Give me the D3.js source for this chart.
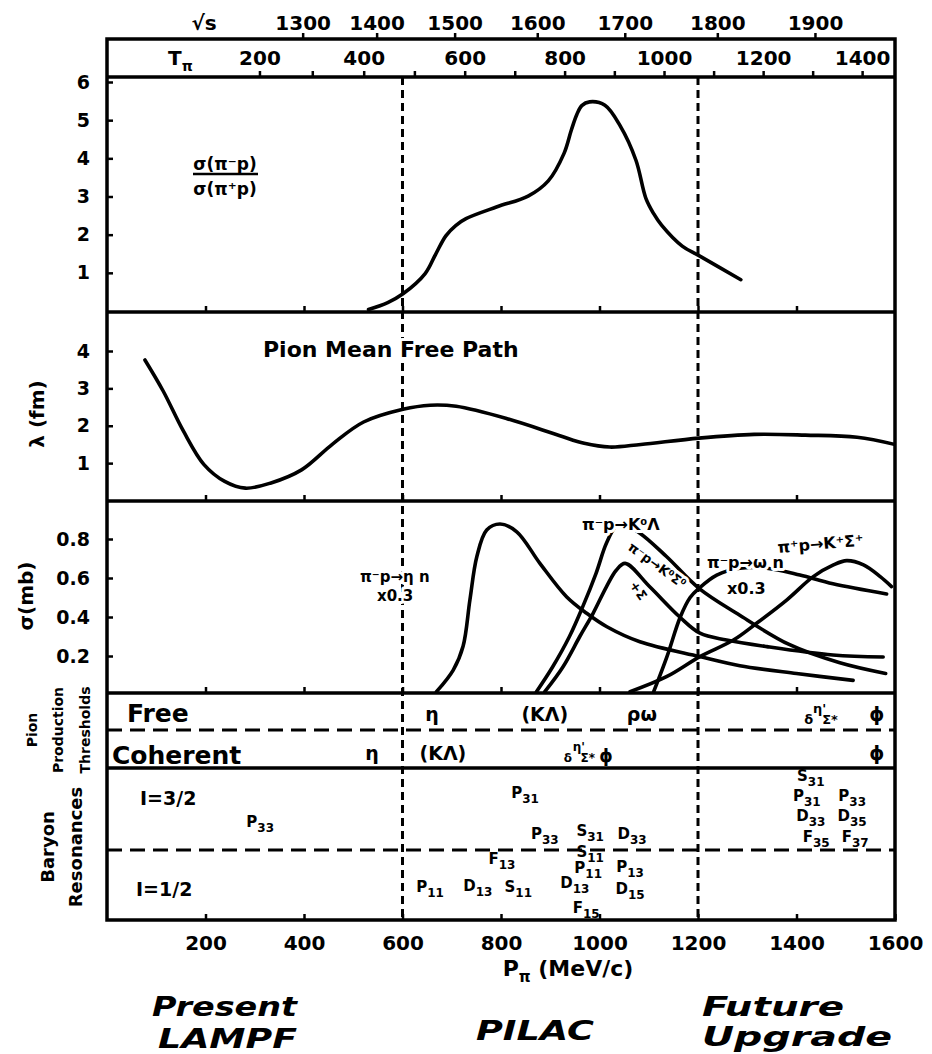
<!DOCTYPE html>
<html><head><meta charset="utf-8">
<script src="https://cdn.jsdelivr.net/npm/d3@7/dist/d3.min.js"></script>
<style>
html,body{margin:0;padding:0;background:#fff;}
text{font-family:"DejaVu Sans","Liberation Sans",sans-serif;font-weight:bold;fill:#000;}
</style></head><body>
<svg id="c" width="932" height="1054"></svg>
<script>
// ---------------- data ----------------
const pMomentumTicks = [200, 400, 600, 800, 1000, 1200, 1400, 1600];
const tPionTicks = [200, 300, 400, 500, 600, 700, 800, 900, 1000, 1100, 1200, 1300, 1400];
const sqrtSTicks = [1300, 1400, 1500, 1600, 1700, 1800, 1900];
const ratioTicks = [1, 2, 3, 4, 5, 6];
const lambdaTicks = [1, 2, 3, 4];
const sigmaTicks = [0.2, 0.4, 0.6, 0.8];
const regionEdges = [600, 1200];

// sigma(pi- p)/sigma(pi+ p)
const ratioP = [531, 570, 601, 646, 667, 688, 708, 729, 792, 855, 896, 928, 943, 954, 964, 980, 1011, 1042, 1074, 1094, 1110, 1126, 1168, 1202, 1287];
const ratioV = [0.04, 0.22, 0.45, 0.98, 1.48, 1.97, 2.24, 2.42, 2.73, 3.01, 3.41, 4.13, 4.75, 5.15, 5.38, 5.48, 5.39, 4.85, 3.95, 2.96, 2.55, 2.25, 1.70, 1.45, 0.82];

// pion mean free path (fm)
const lambdaP = [77, 114, 155, 197, 239, 281, 333, 395, 458, 521, 601, 656, 709, 812, 918, 969, 1021, 1084, 1202, 1314, 1418, 1523, 1606];
const lambdaV = [3.76, 2.93, 1.86, 0.96, 0.51, 0.33, 0.47, 0.82, 1.51, 2.10, 2.44, 2.55, 2.52, 2.19, 1.74, 1.53, 1.43, 1.50, 1.67, 1.77, 1.75, 1.69, 1.48];

// cross sections (mb)
const etaP = [669, 703, 723, 737, 751, 771, 798, 832, 879, 933, 974, 1015, 1082, 1203, 1285, 1400, 1515];
const etaV = [0.017, 0.128, 0.25, 0.49, 0.71, 0.846, 0.877, 0.837, 0.675, 0.504, 0.419, 0.35, 0.273, 0.197, 0.15, 0.11, 0.075];
const k0LambdaP = [872, 905, 939, 966, 993, 1014, 1034, 1050, 1082, 1136, 1202, 1281, 1385, 1488, 1581];
const k0LambdaV = [0.017, 0.145, 0.30, 0.453, 0.624, 0.778, 0.865, 0.87, 0.83, 0.71, 0.547, 0.415, 0.259, 0.165, 0.11];
const k0SigmaP = [889, 926, 960, 987, 1014, 1034, 1052, 1102, 1163, 1204, 1258, 1340, 1474, 1576];
const k0SigmaV = [0.017, 0.145, 0.30, 0.419, 0.555, 0.64, 0.675, 0.555, 0.40, 0.317, 0.282, 0.248, 0.205, 0.195];
const omegaP = [1110, 1137, 1164, 1184, 1202, 1238, 1285, 1340, 1407, 1474, 1583];
const omegaV = [0.017, 0.197, 0.40, 0.50, 0.547, 0.615, 0.65, 0.65, 0.615, 0.57, 0.518];
const kpSigmaP = [1062, 1136, 1204, 1272, 1319, 1380, 1434, 1475, 1502, 1536, 1570, 1593];
const kpSigmaV = [0.017, 0.094, 0.197, 0.282, 0.368, 0.487, 0.607, 0.667, 0.689, 0.667, 0.607, 0.556];

// pion production thresholds (momentum, MeV/c)
const freeNames = ["η", "(KΛ)", "ρω", "ϕ"];
const freeP = [660, 889, 1086, 1563];
const coherentNames = ["η", "(KΛ)", "ϕ"];
const coherentP = [538, 682, 1563];
const freeSmallNames = ["δ", "η'", "Σ*"];
const freeSmallP = [1425, 1447, 1468];
const coherentSmallNames = ["δ", "η'", "Σ*", "ϕ"];
const coherentSmallP = [936, 958, 976, 1013];

// baryon resonances: name, subscript, momentum, level (0 bottom .. 100 top of band)
const resName = ["P", "P", "P", "S", "D", "S", "F", "P", "P", "P", "D", "S", "D", "D", "F", "S", "P", "P", "D", "D", "F", "F"];
const resSub  = ["33", "31", "33", "31", "33", "11", "13", "11", "13", "11", "13", "11", "13", "15", "15", "31", "31", "33", "33", "35", "35", "37"];
const resP    = [311, 849, 889, 981, 1066, 981, 802, 977, 1062, 656, 753, 835, 950, 1062, 973, 1429, 1421, 1513, 1429, 1513, 1440, 1519];
const resLevel= [62, 82, 54, 56, 54, 42, 37, 31, 32, 18, 19, 18, 21, 17, 4, 93, 80, 80, 66, 66, 52, 52];

// ---------------- layout ----------------
const mPi = 139.57, mP = 938.27;
const pFromT = T => { const E = T + mPi; return Math.sqrt(E * E - mPi * mPi); };
const pFromSqrtS = w => { const E = (w * w - mP * mP - mPi * mPi) / (2 * mP); return Math.sqrt(E * E - mPi * mPi); };

const L = 107, R = 895;
const Y = {boxTop: 39, p1: 77, p2: 312, p3: 501, th: 693, br: 768, bottom: 920, thMid: 730, brMid: 850};

const svg = d3.select("#c");
const x = d3.scaleLinear().domain([0, 1600]).range([L, R]);
const y1 = d3.scaleLinear().domain([0, 6]).range([311, 82]);
const y2 = d3.scaleLinear().domain([0, 4]).range([500.5, 351]);
const y3 = d3.scaleLinear().domain([0, 0.8]).range([695, 539]);
const yB = d3.scaleLinear().domain([0, 100]).range([Y.bottom - 2, Y.br + 2]);

const defs = svg.append("defs");
function clip(id, y0, y1_) {
  defs.append("clipPath").attr("id", id).append("rect")
    .attr("x", L).attr("y", y0).attr("width", R - L).attr("height", y1_ - y0);
  return "url(#" + id + ")";
}

const halo = sel => sel.attr("stroke", "#fff").attr("stroke-width", 6).attr("paint-order", "stroke").attr("stroke-linejoin", "round");

// vertical region dashed lines
svg.append("g").selectAll("line").data(regionEdges).join("line")
  .attr("x1", d => x(d)).attr("x2", d => x(d))
  .attr("y1", Y.p1).attr("y2", Y.bottom)
  .attr("stroke", "#000").attr("stroke-width", 3).attr("stroke-dasharray", "8,5");

// horizontal dashed separators
svg.append("g").selectAll("line").data([Y.thMid, Y.brMid]).join("line")
  .attr("x1", L).attr("x2", R).attr("y1", d => d).attr("y2", d => d)
  .attr("stroke", "#000").attr("stroke-width", 3).attr("stroke-dasharray", "15,8");

// curves
const line = (xs, ys, ysc) => d3.line().curve(d3.curveCatmullRom.alpha(0.5))
  .x((d, i) => x(xs[i])).y((d, i) => ysc(ys[i]))(xs);

const curveStyle = sel => sel.attr("fill", "none").attr("stroke", "#000").attr("stroke-width", 3.6)
  .attr("stroke-linecap", "round").attr("stroke-linejoin", "round");

svg.append("path").attr("d", line(ratioP, ratioV, y1)).attr("clip-path", clip("c1", Y.p1, Y.p2)).call(curveStyle);
svg.append("path").attr("d", line(lambdaP, lambdaV, y2)).attr("clip-path", clip("c2", Y.p2, Y.p3)).call(curveStyle);
const c3 = clip("c3", Y.p3, Y.th);
[[etaP, etaV], [k0LambdaP, k0LambdaV], [k0SigmaP, k0SigmaV], [omegaP, omegaV], [kpSigmaP, kpSigmaV]].forEach(([px, pv]) => {
  svg.append("path").attr("d", line(px, pv, y3)).attr("clip-path", c3).call(curveStyle);
});

// frame
const frame = svg.append("g").attr("stroke", "#000").attr("stroke-width", 3.5).attr("fill", "none");
frame.append("rect").attr("x", L).attr("y", Y.boxTop).attr("width", R - L).attr("height", Y.bottom - Y.boxTop);
[Y.p1, Y.p2, Y.p3, Y.th, Y.br].forEach(v => frame.append("line").attr("x1", L).attr("x2", R).attr("y1", v).attr("y2", v));

// axes helpers
function styleAxis(g, fs) {
  g.select(".domain").remove();
  g.selectAll(".tick line").attr("stroke", "#000").attr("stroke-width", 2.5);
  g.selectAll(".tick text").attr("font-size", fs).attr("font-family", "DejaVu Sans").attr("font-weight", "bold").attr("fill", "#000");
}

// left axes
svg.append("g").attr("transform", `translate(${L},0)`)
  .call(d3.axisLeft(y1).tickValues(ratioTicks).tickSize(-6).tickPadding(17).tickFormat(d3.format("d")))
  .call(g => styleAxis(g, 19));
svg.append("g").attr("transform", `translate(${L},0)`)
  .call(d3.axisLeft(y2).tickValues(lambdaTicks).tickSize(-6).tickPadding(17).tickFormat(d3.format("d")))
  .call(g => styleAxis(g, 19));
svg.append("g").attr("transform", `translate(${L},0)`)
  .call(d3.axisLeft(y3).tickValues(sigmaTicks).tickSize(-6).tickPadding(17).tickFormat(d3.format(".1f")))
  .call(g => styleAxis(g, 19));

// bottom axis
svg.append("g").attr("transform", `translate(0,${Y.bottom})`)
  .call(d3.axisBottom(x).tickValues(pMomentumTicks).tickSize(-6).tickPadding(16).tickFormat(d3.format("d")))
  .call(g => styleAxis(g, 20));
// inner panel tick marks
[Y.p2, Y.p3, Y.th].forEach(v => {
  svg.append("g").attr("transform", `translate(0,${v})`)
    .call(d3.axisBottom(x).tickValues(pMomentumTicks.slice(0, -1)).tickSize(-6).tickFormat(""))
    .call(g => styleAxis(g, 10));
});

// T_pi axis (inside the top box)
svg.append("g").attr("transform", `translate(0,${Y.p1})`)
  .call(d3.axisTop(x).tickValues(tPionTicks.map(pFromT)).tickSize(6).tickPadding(6)
    .tickFormat((d, i) => tPionTicks[i] % 200 === 0 ? tPionTicks[i] : ""))
  .call(g => styleAxis(g, 20));
// sqrt(s) axis
svg.append("g").attr("transform", `translate(0,${Y.boxTop})`)
  .call(d3.axisTop(x).tickValues(sqrtSTicks.map(pFromSqrtS)).tickSize(6).tickPadding(3)
    .tickFormat((d, i) => sqrtSTicks[i]))
  .call(g => styleAxis(g, 20));

svg.append("text").attr("x", 204).attr("y", 30).attr("text-anchor", "middle").attr("font-size", 20).text("√s");
svg.append("text").attr("x", 168).attr("y", 65).attr("font-size", 20)
  .call(t => { t.append("tspan").text("T"); t.append("tspan").attr("dy", 6).attr("font-size", 14).text("π"); });

// panel 1 label
svg.append("text").attr("x", 225).attr("y", 170).attr("text-anchor", "middle").attr("font-size", 17).text("σ(π⁻p)");
svg.append("line").attr("x1", 193).attr("x2", 258).attr("y1", 174).attr("y2", 174).attr("stroke", "#000").attr("stroke-width", 2.5);
svg.append("text").attr("x", 225).attr("y", 195).attr("text-anchor", "middle").attr("font-size", 17).text("σ(π⁺p)");

// panel 2 label
svg.append("text").attr("x", 263).attr("y", 357).attr("font-size", 22).call(halo).text("Pion Mean Free Path");

// panel 3 labels
svg.append("text").attr("x", 360).attr("y", 582).attr("font-size", 15).call(halo).text("π⁻p→η n");
svg.append("text").attr("x", 377).attr("y", 601).attr("font-size", 15).call(halo).text("x0.3");
svg.append("text").attr("x", 582).attr("y", 530).attr("font-size", 16).call(halo).text("π⁻p→K⁰Λ");
svg.append("text").attr("x", 707).attr("y", 568).attr("font-size", 16).call(halo).text("π⁻p→ω n");
svg.append("text").attr("x", 727).attr("y", 594).attr("font-size", 16).call(halo).text("x0.3");
svg.append("text").attr("transform", "translate(778,553) rotate(-5)").attr("font-size", 16).call(halo).text("π⁺p→K⁺Σ⁺");
svg.append("text").attr("transform", "translate(627,549) rotate(36)").attr("font-size", 13).call(halo).text("π⁻p→K⁰Σ⁰");
svg.append("text").attr("transform", "translate(629,585) rotate(55)").attr("font-size", 13).call(halo).text("+Σ");

// left rotated labels
const rot = (xx, yy, txt, fs, w) => svg.append("text").attr("transform", `translate(${xx},${yy}) rotate(-90)`)
  .attr("text-anchor", "middle").attr("font-size", fs).attr("font-weight", w || "bold").text(txt);
rot(44, 414, "λ (fm)", 20, "normal");
rot(33, 596, "σ(mb)", 20);
rot(37, 730, "Pion", 14);
rot(63, 730, "Production", 14);
rot(90, 730, "Thresholds", 14);
rot(54, 847, "Baryon", 18);
rot(82, 847, "Resonances", 18);

// thresholds panel
svg.append("text").attr("x", 127).attr("y", 722).attr("font-size", 25).text("Free");
svg.append("text").attr("x", 112).attr("y", 764).attr("font-size", 25).text("Coherent");
svg.append("g").selectAll("text").data(freeNames).join("text")
  .attr("x", (d, i) => x(freeP[i])).attr("y", 721).attr("text-anchor", "middle").attr("font-size", 19).text(d => d);
svg.append("g").selectAll("text").data(coherentNames).join("text")
  .attr("x", (d, i) => x(coherentP[i])).attr("y", 760).attr("text-anchor", "middle").attr("font-size", 19).text(d => d);
svg.append("g").selectAll("text").data(freeSmallNames).join("text")
  .attr("x", (d, i) => x(freeSmallP[i])).attr("y", (d, i) => i === 1 ? 713 : 724).attr("text-anchor", "middle").attr("font-size", 13).text(d => d);
svg.append("g").selectAll("text").data(coherentSmallNames).join("text")
  .attr("x", (d, i) => x(coherentSmallP[i])).attr("y", (d, i) => i === 1 ? 751 : 762).attr("text-anchor", "middle")
  .attr("font-size", (d, i) => i === 3 ? 17 : 12).text(d => d);

// baryon panel
svg.append("text").attr("x", 140).attr("y", 805).attr("font-size", 19).text("I=3/2");
svg.append("text").attr("x", 136).attr("y", 896).attr("font-size", 19).text("I=1/2");
svg.append("g").selectAll("text").data(resName).join("text")
  .attr("x", (d, i) => x(resP[i])).attr("y", (d, i) => yB(resLevel[i]) + 1)
  .attr("text-anchor", "middle").attr("font-size", 15)
  .each(function (d, i) {
    const t = d3.select(this);
    t.append("tspan").text(d);
    t.append("tspan").attr("dy", 5).attr("font-size", 12).text(resSub[i]);
  });

// bottom titles
svg.append("text").attr("x", 568).attr("y", 976).attr("text-anchor", "middle").attr("font-size", 22)
  .call(t => {
    t.append("tspan").text("P");
    t.append("tspan").attr("dy", 6).attr("font-size", 15).text("π");
    t.append("tspan").attr("dy", -6).text(" (MeV/c)");
  });
const big = (xx, yy, txt, w) => svg.append("text").attr("x", xx).attr("y", yy)
  .attr("font-size", 26).attr("font-style", "italic").attr("font-weight", "900")
  .attr("textLength", w).attr("lengthAdjust", "spacingAndGlyphs").text(txt);
big(152, 1016, "Present", 145);
big(158, 1048, "LAMPF", 139);
big(476, 1040, "PILAC", 118);
big(702, 1016, "Future", 142);
big(702, 1046, "Upgrade", 190);
</script>
</body></html>
